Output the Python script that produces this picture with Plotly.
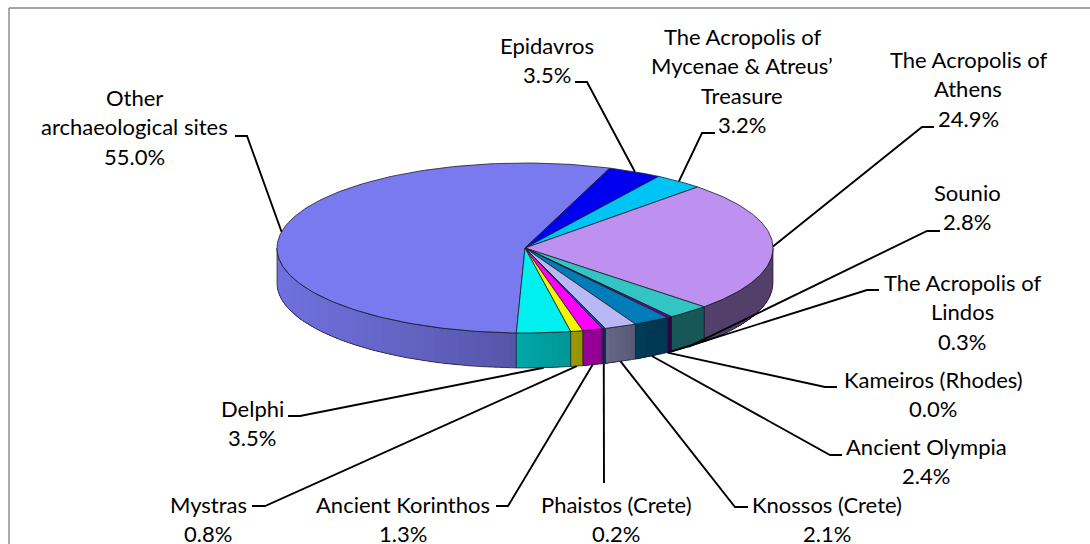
import math
import plotly.graph_objects as go

# ---- data ----
site_lines = [
    ["Other", "archaeological sites"],
    ["Epidavros"],
    ["The Acropolis of", "Mycenae & Atreus’", "Treasure"],
    ["The Acropolis of", "Athens"],
    ["Sounio"],
    ["The Acropolis of", "Lindos"],
    ["Kameiros (Rhodes)"],
    ["Ancient Olympia"],
    ["Knossos (Crete)"],
    ["Phaistos (Crete)"],
    ["Ancient Korinthos"],
    ["Mystras"],
    ["Delphi"],
]
share_pct = [55.0, 3.5, 3.2, 24.9, 2.8, 0.3, 0.0, 2.4, 2.1, 0.2, 1.3, 0.8, 3.5]

# ---- styles and layout ----
top_colors = [(122, 122, 240), (0, 0, 240), (0, 196, 244), (190, 144, 240),
              (51, 196, 196), (106, 0, 160), (40, 40, 120), (0, 125, 184),
              (184, 184, 244), (32, 64, 176), (255, 0, 255), (245, 245, 0),
              (0, 240, 240)]
label_cx = [134, 547, 742, 968, 967, 962, 933, 926, 827, 616, 403, 208, 252]
label_y0 = [97, 45, 36, 59, 192, 282, 379, 446, 504, 504, 504, 504, 408]
elbow_a = [(235, 136), (575, 82), (715, 133), (934, 127), (940, 231), (879, 290),
           (837, 387), (842, 455), (748, 507), None, (496, 506), (252, 506), (288, 416)]
elbow_b = [(247, 136), (587, 82), (702, 133), (922, 127), (927, 231), (867, 290),
           (825, 387), (830, 455), (735, 507), (604, 483), (508, 506), (265, 506), (300, 416)]
CX, CY, RX, RY, DEPTH = 525, 248, 248, 85, 35
START_DEG = 182
LINE_STEP = 29.6
FONT = dict(family="Lato, Carlito, Calibri, sans-serif", size=22, color="#000000")
EDGE = "#1a1a2a"


def rim(deg, drop=0.0):
    a = math.radians(deg)
    return CX + RX * math.sin(a), CY - RY * math.cos(a) + drop


def shade(x):
    stops = [(277, .93), (400, .82), (517, .70), (570, .63), (606, .56), (650, .45), (773, .44)]
    if x <= stops[0][0]:
        return stops[0][1]
    for (x0, f0), (x1, f1) in zip(stops, stops[1:]):
        if x <= x1:
            return f0 + (f1 - f0) * (x - x0) / (x1 - x0)
    return stops[-1][1]


fig = go.Figure()


def poly(xs, ys, fill, line_color, width):
    fig.add_trace(go.Scatter(x=xs, y=ys, mode="lines", fill="toself", fillcolor=fill,
                             line=dict(color=line_color, width=width), hoverinfo="skip",
                             showlegend=False))


# slice angle spans, clockwise from the start angle
spans, angle = [], START_DEG
for v in share_pct:
    spans.append((angle, angle + v * 3.6))
    angle += v * 3.6

# side wall: only the front half of the rim (90..270 degrees, mod 360)
for (a0, a1), col in zip(spans, top_colors):
    for shift in (0, 360):
        lo, hi = max(a0 - shift, 90), min(a1 - shift, 270)
        if hi <= lo:
            continue
        n = max(1, math.ceil((hi - lo) / 1.5))
        for i in range(n):
            s0 = lo + (hi - lo) * i / n
            # each band runs on to the end of the wall; the next band paints over it,
            # so no seams can show between bands
            f = shade(rim(s0 + (hi - lo) / n / 2)[0])
            c = "rgb(%d,%d,%d)" % tuple(int(v * f) for v in col)
            m = 6
            steps = [s0 + (hi - s0) * j / m for j in range(m + 1)]
            xs = [rim(s)[0] for s in steps] + [rim(s)[0] for s in reversed(steps)]
            ys = [rim(s)[1] for s in steps] + [rim(s, DEPTH)[1] for s in reversed(steps)]
            poly(xs + xs[:1], ys + ys[:1], c, c, 0)
        # outline of the slice's wall
        steps = [lo + (hi - lo) * i / 40 for i in range(41)]
        xs = [rim(s)[0] for s in steps] + [rim(s)[0] for s in reversed(steps)]
        ys = [rim(s, DEPTH)[1] for s in steps] + [rim(s)[1] for s in reversed(steps)]
        fig.add_trace(go.Scatter(x=xs + xs[:1], y=ys + ys[:1], mode="lines",
                                 line=dict(color=EDGE, width=0.7), hoverinfo="skip",
                                 showlegend=False))

# top surface
for (a0, a1), col in zip(spans, top_colors):
    if a1 <= a0:
        continue
    n = max(2, math.ceil((a1 - a0) / 1.0))
    steps = [a0 + (a1 - a0) * i / n for i in range(n + 1)]
    xs = [CX] + [rim(s)[0] for s in steps] + [CX]
    ys = [CY] + [rim(s)[1] for s in steps] + [CY]
    poly(xs, ys, "rgb(%d,%d,%d)" % col, EDGE, 0.8)

# leader lines, ending at the middle of each slice's rim
for (a0, a1), a, b in zip(spans, elbow_a, elbow_b):
    mid = ((a0 + a1) / 2) % 360
    drop = DEPTH if 100 < mid < 270 else 0
    end = rim(mid, drop)
    pts = ([a] if a else []) + [b, end]
    fig.add_trace(go.Scatter(x=[p[0] for p in pts], y=[p[1] for p in pts], mode="lines",
                             line=dict(color="#000000", width=1.9), hoverinfo="skip",
                             showlegend=False))

# labels, one annotation per line so the line pitch can be controlled
annotations = []
for lines, v, cx, y0 in zip(site_lines, share_pct, label_cx, label_y0):
    for i, text in enumerate(lines + [f"{v:.1f}%"]):
        annotations.append(dict(x=cx, y=y0 + i * LINE_STEP, text=text, showarrow=False,
                                xanchor="center", yanchor="middle", font=FONT))

frame = dict(type="line", line=dict(color="#868686", width=1.4), layer="below")
fig.update_layout(
    width=1090, height=544, margin=dict(l=0, r=0, t=0, b=0),
    paper_bgcolor="white", plot_bgcolor="white", showlegend=False,
    xaxis=dict(range=[0, 1090], visible=False, fixedrange=True),
    yaxis=dict(range=[544, 0], visible=False, fixedrange=True),
    annotations=annotations,
    shapes=[dict(frame, x0=9, x1=9, y0=8, y1=544), dict(frame, x0=9, x1=1090, y0=8, y1=8)],
)
fig.write_html("out.html", config=dict(displayModeBar=False),
               post_script="document.body.style.margin='0';document.body.style.overflow='hidden';")
